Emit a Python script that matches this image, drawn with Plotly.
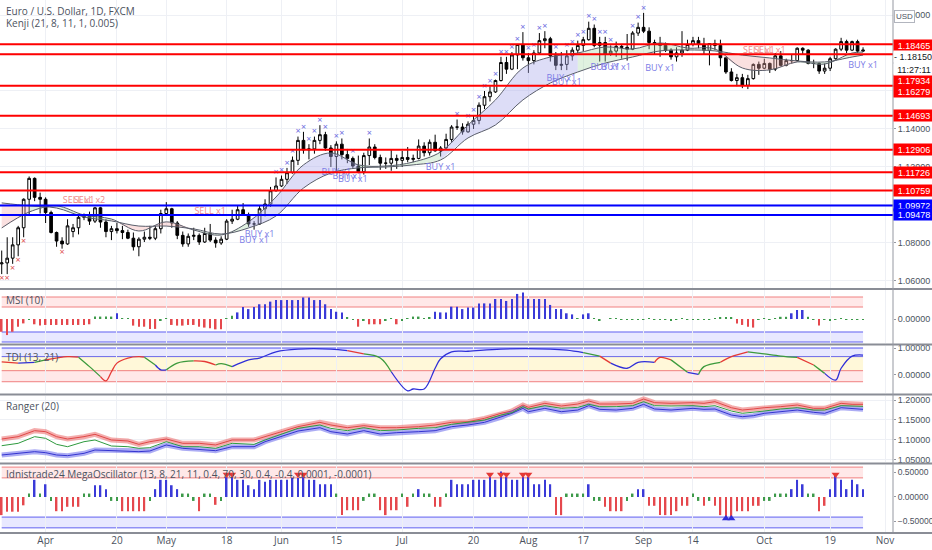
import pandas as pd
import plotly.graph_objects as go
from plotly.subplots import make_subplots

# EUR/USD daily bars (FXCM, weekdays)
dates = pd.bdate_range("2020-03-20", "2020-10-27")

opens = [
    1.0690, 1.0695, 1.0720, 1.0790, 1.0880, 1.1030, 1.1140, 1.1040, 1.1030, 1.0960,
    1.0855, 1.0810, 1.0795, 1.0860, 1.0880, 1.0935, 1.0940, 1.0915, 1.0985, 1.0910,
    1.0860, 1.0875, 1.0865, 1.0855, 1.0825, 1.0780, 1.0820, 1.0830, 1.0825, 1.0875,
    1.0955, 1.0980, 1.0905, 1.0840, 1.0795, 1.0835, 1.0840, 1.0805, 1.0850, 1.0815,
    1.0800, 1.0820, 1.0915, 1.0925, 1.0975, 1.0950, 1.0900, 1.0900, 1.0980, 1.1005,
    1.1075, 1.1100, 1.1135, 1.1170, 1.1235, 1.1340, 1.1290, 1.1295, 1.1340, 1.1370,
    1.1300, 1.1255, 1.1320, 1.1265, 1.1245, 1.1205, 1.1175, 1.1260, 1.1305, 1.1250,
    1.1220, 1.1220, 1.1245, 1.1235, 1.1250, 1.1240, 1.1245, 1.1310, 1.1275, 1.1330,
    1.1285, 1.1300, 1.1345, 1.1410, 1.1410, 1.1385, 1.1425, 1.1445, 1.1525, 1.1570,
    1.1595, 1.1655, 1.1750, 1.1715, 1.1790, 1.1845, 1.1775, 1.1760, 1.1800, 1.1865,
    1.1875, 1.1785, 1.1735, 1.1740, 1.1785, 1.1815, 1.1840, 1.1870, 1.1930, 1.1840,
    1.1855, 1.1795, 1.1810, 1.1835, 1.1830, 1.1820, 1.1905, 1.1935, 1.1915, 1.1855,
    1.1850, 1.1840, 1.1815, 1.1780, 1.1800, 1.1815, 1.1845, 1.1865, 1.1845, 1.1815,
    1.1850, 1.1840, 1.1775, 1.1700, 1.1655, 1.1670, 1.1630, 1.1665, 1.1740, 1.1720,
    1.1745, 1.1715, 1.1785, 1.1735, 1.1760, 1.1760, 1.1825, 1.1815, 1.1745, 1.1745,
    1.1705, 1.1720, 1.1770, 1.1820, 1.1860, 1.1815, 1.1860, 1.1810,
]
highs = [
    1.0760, 1.0830, 1.0830, 1.0890, 1.1035, 1.1150, 1.1145, 1.1065, 1.1040, 1.0970,
    1.0860, 1.0830, 1.0925, 1.0900, 1.0950, 1.0955, 1.0965, 1.0990, 1.0990, 1.0925,
    1.0890, 1.0905, 1.0890, 1.0870, 1.0855, 1.0830, 1.0860, 1.0890, 1.0890, 1.0975,
    1.1015, 1.0985, 1.0915, 1.0860, 1.0850, 1.0880, 1.0850, 1.0880, 1.0900, 1.0830,
    1.0835, 1.0925, 1.0975, 1.0995, 1.1010, 1.0960, 1.0915, 1.0995, 1.1030, 1.1095,
    1.1145, 1.1155, 1.1195, 1.1255, 1.1360, 1.1385, 1.1320, 1.1360, 1.1420, 1.1385,
    1.1315, 1.1335, 1.1350, 1.1295, 1.1255, 1.1260, 1.1275, 1.1350, 1.1320, 1.1265,
    1.1250, 1.1290, 1.1265, 1.1285, 1.1305, 1.1265, 1.1345, 1.1330, 1.1345, 1.1370,
    1.1310, 1.1375, 1.1420, 1.1450, 1.1430, 1.1440, 1.1470, 1.1540, 1.1600, 1.1625,
    1.1660, 1.1780, 1.1780, 1.1805, 1.1845, 1.1910, 1.1800, 1.1815, 1.1905, 1.1915,
    1.1885, 1.1805, 1.1805, 1.1815, 1.1830, 1.1865, 1.1885, 1.1965, 1.1950, 1.1885,
    1.1885, 1.1840, 1.1860, 1.1845, 1.1900, 1.1915, 1.1960, 1.2011, 1.1935, 1.1870,
    1.1885, 1.1855, 1.1825, 1.1830, 1.1915, 1.1870, 1.1885, 1.1885, 1.1880, 1.1850,
    1.1870, 1.1870, 1.1780, 1.1720, 1.1690, 1.1690, 1.1685, 1.1745, 1.1755, 1.1770,
    1.1750, 1.1800, 1.1810, 1.1770, 1.1790, 1.1830, 1.1830, 1.1820, 1.1765, 1.1750,
    1.1745, 1.1780, 1.1825, 1.1880, 1.1870, 1.1865, 1.1870, 1.1830,
]
lows = [
    1.0636, 1.0636, 1.0690, 1.0730, 1.0830, 1.0950, 1.1020, 1.0955, 1.0905, 1.0850,
    1.0780, 1.0770, 1.0790, 1.0830, 1.0845, 1.0920, 1.0895, 1.0905, 1.0880, 1.0830,
    1.0815, 1.0850, 1.0820, 1.0820, 1.0760, 1.0730, 1.0805, 1.0815, 1.0815, 1.0850,
    1.0945, 1.0880, 1.0820, 1.0780, 1.0780, 1.0815, 1.0790, 1.0800, 1.0805, 1.0775,
    1.0790, 1.0815, 1.0900, 1.0920, 1.0945, 1.0885, 1.0870, 1.0895, 1.0940, 1.0990,
    1.1070, 1.1095, 1.1110, 1.1165, 1.1210, 1.1270, 1.1240, 1.1270, 1.1320, 1.1285,
    1.1200, 1.1170, 1.1240, 1.1220, 1.1195, 1.1170, 1.1160, 1.1210, 1.1240, 1.1185,
    1.1190, 1.1180, 1.1190, 1.1200, 1.1225, 1.1225, 1.1240, 1.1255, 1.1260, 1.1280,
    1.1255, 1.1290, 1.1330, 1.1395, 1.1370, 1.1380, 1.1400, 1.1425, 1.1505, 1.1545,
    1.1590, 1.1650, 1.1690, 1.1710, 1.1715, 1.1760, 1.1695, 1.1740, 1.1795, 1.1825,
    1.1755, 1.1710, 1.1710, 1.1710, 1.1760, 1.1800, 1.1810, 1.1865, 1.1830, 1.1755,
    1.1755, 1.1785, 1.1780, 1.1770, 1.1760, 1.1815, 1.1890, 1.1905, 1.1820, 1.1790,
    1.1780, 1.1805, 1.1765, 1.1755, 1.1780, 1.1810, 1.1835, 1.1825, 1.1790, 1.1735,
    1.1815, 1.1730, 1.1690, 1.1650, 1.1625, 1.1615, 1.1610, 1.1660, 1.1685, 1.1715,
    1.1695, 1.1705, 1.1730, 1.1730, 1.1745, 1.1755, 1.1790, 1.1740, 1.1720, 1.1690,
    1.1690, 1.1705, 1.1765, 1.1810, 1.1800, 1.1810, 1.1800, 1.1805,
]
closes = [
    1.0695, 1.0720, 1.0790, 1.0880, 1.1030, 1.1140, 1.1040, 1.1030, 1.0960, 1.0855,
    1.0810, 1.0795, 1.0890, 1.0880, 1.0935, 1.0940, 1.0915, 1.0985, 1.0910, 1.0860,
    1.0875, 1.0865, 1.0855, 1.0825, 1.0780, 1.0820, 1.0830, 1.0825, 1.0875, 1.0955,
    1.0980, 1.0905, 1.0840, 1.0795, 1.0835, 1.0840, 1.0805, 1.0850, 1.0815, 1.0800,
    1.0820, 1.0915, 1.0925, 1.0975, 1.0950, 1.0900, 1.0900, 1.0980, 1.1005, 1.1075,
    1.1100, 1.1135, 1.1170, 1.1235, 1.1340, 1.1290, 1.1295, 1.1340, 1.1370, 1.1300,
    1.1255, 1.1320, 1.1265, 1.1245, 1.1205, 1.1175, 1.1260, 1.1305, 1.1250, 1.1220,
    1.1220, 1.1245, 1.1235, 1.1250, 1.1240, 1.1245, 1.1310, 1.1275, 1.1330, 1.1285,
    1.1300, 1.1345, 1.1410, 1.1410, 1.1385, 1.1425, 1.1445, 1.1525, 1.1570, 1.1595,
    1.1655, 1.1750, 1.1715, 1.1790, 1.1845, 1.1775, 1.1760, 1.1800, 1.1865, 1.1875,
    1.1785, 1.1735, 1.1740, 1.1785, 1.1815, 1.1840, 1.1870, 1.1930, 1.1840, 1.1855,
    1.1795, 1.1810, 1.1835, 1.1830, 1.1820, 1.1905, 1.1935, 1.1915, 1.1855, 1.1850,
    1.1840, 1.1815, 1.1780, 1.1800, 1.1815, 1.1845, 1.1865, 1.1845, 1.1815, 1.1850,
    1.1840, 1.1775, 1.1700, 1.1655, 1.1670, 1.1630, 1.1665, 1.1740, 1.1720, 1.1745,
    1.1715, 1.1785, 1.1735, 1.1760, 1.1760, 1.1825, 1.1815, 1.1745, 1.1745, 1.1705,
    1.1720, 1.1770, 1.1820, 1.1860, 1.1815, 1.1860, 1.1810, 1.1815,
]

# Kenji ribbon, read every 5 bars
kenji_idx = [0, 5, 10, 15, 20, 25, 30, 35, 40, 45, 50, 55, 60, 65, 70, 75, 80, 85, 90, 95,
             100, 105, 110, 115, 120, 125, 130, 135, 140, 145, 150, 155, 157]
kenji_fast = [1.0879, 1.0963, 1.0995, 1.0947, 1.0926, 1.0863, 1.0911, 1.0868, 1.0842, 1.0911,
              1.1042, 1.1211, 1.1274, 1.1211, 1.1205, 1.1226, 1.1279, 1.1421, 1.1553, 1.1721,
              1.1779, 1.1800, 1.1832, 1.1821, 1.1853, 1.1826, 1.1821, 1.1721, 1.1711, 1.1753,
              1.1742, 1.1800, 1.1805]
kenji_slow = [1.1011, 1.0995, 1.0984, 1.0937, 1.0916, 1.0889, 1.0889, 1.0874, 1.0847, 1.0879,
              1.0942, 1.1089, 1.1168, 1.1195, 1.1200, 1.1211, 1.1237, 1.1353, 1.1421, 1.1553,
              1.1642, 1.1700, 1.1747, 1.1779, 1.1811, 1.1816, 1.1811, 1.1789, 1.1774, 1.1758,
              1.1753, 1.1779, 1.1789]
kenji_zones = [(0, 5, "pink"), (5, 20, "green"), (20, 35, "pink"), (35, 45, "green"),
               (45, 65, "lavender"), (65, 80, "green"), (80, 105, "lavender"),
               (105, 130, "green"), (130, 145, "pink"), (145, 157, "green")]

# horizontal levels
level_prices = [1.18465, 1.17934, 1.16279, 1.14693, 1.12906, 1.11726, 1.10759, 1.09972, 1.09478]
level_colors = ["#ff0000"] * 7 + ["#0000ff"] * 2
current_price = 1.18150

# signals on the price pane
blue_x_idx = [50, 51, 52, 53, 54, 55, 56, 57, 58, 59, 61, 62, 64, 67, 83, 85, 86, 87, 88, 89,
              90, 91, 92, 93, 94, 95, 96, 97, 98, 99, 101, 103, 104, 105, 106, 107, 108, 109,
              110, 111, 115, 116, 117]
red_x_idx = [0, 1, 2, 3, 4, 11]
buy_idx = [46, 47, 61, 63, 64, 80, 102, 103, 110, 112, 120, 157]
buy_price = [1.0811, 1.0842, 1.1168, 1.1147, 1.1132, 1.1195, 1.1663, 1.1642, 1.1721, 1.1721,
             1.1716, 1.1732]
sell_idx = [14, 16, 38, 138, 140]
sell_text = ["SELL x1", "SELL x2", "SELL x1", "SELL x1", "SELL x1"]
sell_price = [1.1021, 1.1021, 1.0963, 1.1811, 1.1811]

# MSI (10)
msi = [
    -0.58, -0.73, -0.58, -0.35, -0.20, -0.03, -0.24, -0.30, -0.27, -0.27,
    -0.27, -0.27, -0.27, -0.27, -0.27, -0.27, -0.24, 0.11, 0.11, 0.11,
    0.11, 0.26, 0.03, 0.03, -0.30, -0.35, -0.35, -0.45, -0.45, -0.05,
    0.03, -0.27, -0.30, -0.30, -0.27, -0.27, -0.35, -0.39, -0.42, -0.47,
    -0.47, 0.03, 0.15, 0.30, 0.55, 0.45, 0.55, 0.67, 0.67, 0.79,
    0.86, 0.86, 0.86, 0.86, 0.86, 0.98, 0.98, 0.86, 0.86, 0.67,
    0.45, 0.33, 0.30, 0.06, -0.02, -0.35, -0.05, -0.24, -0.24, -0.24,
    -0.05, 0.03, -0.24, -0.05, 0.03, 0.11, 0.11, 0.03, 0.06, 0.33,
    0.30, 0.30, 0.56, 0.56, 0.45, 0.52, 0.52, 0.71, 0.71, 0.71,
    0.91, 0.91, 0.82, 0.91, 1.14, 1.21, 0.91, 0.91, 0.91, 0.91,
    0.64, 0.45, 0.45, 0.26, 0.21, 0.03, 0.21, 0.26, 0.03, -0.05,
    0.00, 0.03, 0.03, -0.02, -0.03, -0.03, -0.03, -0.03, 0.03, -0.03,
    -0.03, -0.03, -0.06, -0.03, 0.03, -0.03, -0.03, -0.03, -0.03, -0.03,
    0.03, 0.06, 0.08, 0.08, -0.20, -0.27, -0.35, -0.39, -0.03, 0.03,
    -0.03, 0.03, 0.10, 0.10, 0.26, 0.41, 0.41, 0.10, -0.03, -0.30,
    -0.03, -0.05, -0.03, 0.03, -0.03, -0.03, -0.03, -0.03,
]

# TDI (13, 21) line, sampled
tdi_idx = [0, 3, 6, 8, 12, 14, 16, 18, 19, 20, 21, 23, 25, 26, 28, 29, 30, 32, 35, 37,
           39, 40, 42, 45, 47, 50, 54, 60, 63, 66, 69, 71, 74, 75, 77, 79, 80, 82, 85, 91,
           100, 103, 106, 109, 111, 114, 116, 119, 120, 122, 125, 127, 128, 131, 133, 136,
           139, 142, 145, 148, 150, 152, 153, 155, 157]
tdi_val = [0.49, 0.44, 0.47, 0.56, 0.68, 0.66, 0.31, -0.06, -0.22, 0.12, 0.44, 0.63, 0.68,
           0.66, 0.37, 0.19, 0.19, 0.44, 0.52, 0.50, 0.37, 0.42, 0.31, 0.56, 0.63, 0.86,
           0.96, 0.96, 0.90, 0.78, 0.63, 0.12, -0.59, -0.52, -0.52, 0.25, 0.60, 0.86, 0.88,
           0.96, 0.96, 0.92, 0.83, 0.70, 0.44, 0.25, 0.47, 0.47, 0.65, 0.56, 0.10, 0.02,
           0.31, 0.47, 0.68, 0.86, 0.78, 0.70, 0.65, 0.37, 0.06, -0.19, 0.25, 0.70, 0.74]
tdi_col = ["r", "r", "b", "g", "r", "r", "g", "g", "r", "r", "r", "r", "r", "r", "g", "b",
           "b", "g", "g", "r", "r", "g", "g", "b", "b", "b", "b", "b", "b", "r", "g", "g",
           "b", "b", "b", "b", "b", "b", "b", "b", "b", "b", "b", "g", "r", "b", "b", "b",
           "r", "r", "g", "b", "g", "g", "r", "r", "g", "g", "g", "r", "g", "b", "b", "b", "b"]

# Ranger (20), sampled
rng_idx = [0, 3, 6, 8, 10, 12, 15, 17, 20, 23, 25, 27, 30, 33, 36, 39, 42, 46, 48, 51,
           54, 58, 60, 63, 66, 69, 72, 76, 79, 82, 85, 88, 91, 93, 95, 96, 99, 102, 105, 107,
           109, 112, 115, 117, 119, 122, 126, 128, 130, 133, 135, 137, 139, 142, 145, 148,
           150, 153, 155, 157]
rng_upper = [1.1015, 1.1074, 1.1226, 1.1200, 1.1074, 1.1015, 1.1074, 1.1133, 1.0990, 1.0965,
             1.0880, 1.0947, 1.1015, 1.0906, 1.0906, 1.0864, 1.0990, 1.0990, 1.1074, 1.1200,
             1.1326, 1.1436, 1.1369, 1.1301, 1.1352, 1.1301, 1.1301, 1.1326, 1.1369, 1.1436,
             1.1452, 1.1537, 1.1664, 1.1722, 1.1874, 1.1815, 1.1916, 1.1848, 1.1899, 1.1975,
             1.1899, 1.1899, 1.1916, 1.2025, 1.1933, 1.1916, 1.1933, 1.1916, 1.1958, 1.1806,
             1.1747, 1.1773, 1.1806, 1.1832, 1.1874, 1.1790, 1.1790, 1.1916, 1.1891, 1.1891]
rng_mid = [1.0846, 1.0906, 1.1074, 1.1032, 1.0880, 1.0821, 1.0947, 1.0990, 1.0838, 1.0821,
           1.0780, 1.0796, 1.0947, 1.0821, 1.0821, 1.0780, 1.0906, 1.0880, 1.0990, 1.1141,
           1.1284, 1.1369, 1.1284, 1.1226, 1.1301, 1.1226, 1.1242, 1.1284, 1.1301, 1.1386,
           1.1436, 1.1495, 1.1621, 1.1680, 1.1832, 1.1773, 1.1857, 1.1790, 1.1815, 1.1891,
           1.1832, 1.1832, 1.1857, 1.1958, 1.1857, 1.1848, 1.1857, 1.1832, 1.1857, 1.1722,
           1.1664, 1.1689, 1.1722, 1.1773, 1.1806, 1.1747, 1.1747, 1.1857, 1.1848, 1.1840]
rng_lower = [1.0611, 1.0653, 1.0695, 1.0670, 1.0611, 1.0594, 1.0653, 1.0737, 1.0720, 1.0712,
             1.0695, 1.0712, 1.0864, 1.0780, 1.0755, 1.0720, 1.0821, 1.0821, 1.0947, 1.1074,
             1.1217, 1.1301, 1.1200, 1.1141, 1.1226, 1.1141, 1.1175, 1.1200, 1.1226, 1.1326,
             1.1369, 1.1436, 1.1563, 1.1664, 1.1790, 1.1705, 1.1790, 1.1705, 1.1747, 1.1857,
             1.1764, 1.1747, 1.1790, 1.1891, 1.1773, 1.1747, 1.1790, 1.1764, 1.1773, 1.1621,
             1.1579, 1.1604, 1.1664, 1.1705, 1.1747, 1.1689, 1.1664, 1.1806, 1.1790, 1.1764]

# MegaOscillator
mega = [
    -0.37, -0.30, -0.30, -0.30, -0.17, 0.07, 0.35, 0.07, 0.26, -0.08,
    -0.29, -0.29, -0.20, -0.20, -0.20, 0.07, 0.07, 0.24, 0.24, 0.16,
    -0.08, -0.08, -0.29, -0.29, -0.29, -0.29, -0.29, -0.08, 0.16, 0.35,
    0.35, 0.24, 0.16, 0.07, 0.07, -0.08, -0.29, 0.07, 0.07, -0.16,
    -0.08, 0.41, 0.41, 0.35, 0.35, 0.24, 0.16, 0.35, 0.31, 0.35,
    0.35, 0.35, 0.35, 0.39, 0.39, 0.41, 0.35, 0.35, 0.26, 0.26,
    0.26, 0.07, -0.37, -0.27, -0.27, -0.27, -0.08, 0.07, 0.07, -0.27,
    -0.37, -0.27, -0.27, 0.07, -0.20, 0.07, 0.16, 0.07, 0.07, -0.20,
    -0.20, 0.07, 0.35, 0.26, 0.26, 0.26, 0.35, 0.35, 0.35, 0.41,
    0.35, 0.52, 0.41, 0.35, 0.35, 0.41, 0.41, 0.26, 0.26, 0.35,
    0.26, -0.37, -0.37, 0.07, 0.07, 0.07, 0.07, 0.26, -0.08, -0.08,
    -0.20, -0.29, -0.29, -0.29, -0.08, 0.07, 0.16, 0.16, -0.18, -0.18,
    -0.37, -0.37, -0.37, -0.29, -0.18, -0.18, 0.07, -0.08, -0.18, -0.08,
    -0.18, -0.37, -0.44, -0.44, -0.29, -0.29, -0.29, -0.18, -0.18, -0.08,
    -0.08, 0.07, 0.07, 0.07, 0.16, 0.35, 0.26, 0.07, 0.07, -0.29,
    -0.18, 0.16, 0.45, 0.35, 0.16, 0.35, 0.26, 0.16,
]
mega_sell_idx = [41, 42, 54, 55, 89, 91, 92, 95, 96, 152]
mega_buy_idx = [132, 133]

tick_dates = ["2020-04-01", "2020-04-20", "2020-05-01", "2020-05-18", "2020-06-01",
              "2020-06-15", "2020-07-01", "2020-07-20", "2020-08-03", "2020-08-17",
              "2020-09-01", "2020-09-14", "2020-10-01", "2020-10-19", "2020-11-02"]
tick_text = ["Apr", "20", "May", "18", "Jun", "15", "Jul", "20", "Aug", "17",
             "Sep", "14", "Oct", "19", "Nov"]

TXT = "#4c525e"
NUM_FONT = "Liberation Sans, Arial, sans-serif"
RED, BLUE, GREEN = "#e5484d", "#3a3ad8", "#3d9a4a"


def at(idx):
    return [dates[i] for i in idx]


def osc_color(v, hi, lo):
    if v >= hi:
        return BLUE
    if v <= lo:
        return RED
    return GREEN


fig = make_subplots(rows=5, cols=1, shared_xaxes=True, vertical_spacing=0.01)

# ---- price pane ----
zone_fill = {"pink": "rgba(240,165,165,0.35)", "green": "rgba(165,215,165,0.35)",
             "lavender": "rgba(170,170,235,0.4)"}
for a, b, zone in kenji_zones:
    ks = [k for k, j in enumerate(kenji_idx) if a <= j <= b]
    xs = [dates[kenji_idx[k]] for k in ks]
    fig.add_trace(go.Scatter(x=xs, y=[kenji_slow[k] for k in ks], mode="lines",
                             line=dict(width=0, shape="spline"), hoverinfo="skip"), row=1, col=1)
    fig.add_trace(go.Scatter(x=xs, y=[kenji_fast[k] for k in ks], mode="lines",
                             line=dict(width=0, shape="spline"), fill="tonexty",
                             fillcolor=zone_fill[zone], hoverinfo="skip"), row=1, col=1)
for series in (kenji_fast, kenji_slow):
    fig.add_trace(go.Scatter(x=at(kenji_idx), y=series, mode="lines",
                             line=dict(color="#5a5e6b", width=1, shape="spline"),
                             hoverinfo="skip"), row=1, col=1)

fig.add_trace(go.Candlestick(
    x=dates, open=opens, high=highs, low=lows, close=closes,
    increasing=dict(line=dict(color="#000000", width=1), fillcolor="#ffffff"),
    decreasing=dict(line=dict(color="#000000", width=1), fillcolor="#000000"),
    whiskerwidth=0, hoverinfo="skip"), row=1, col=1)

fig.add_trace(go.Scatter(x=at(blue_x_idx), y=[highs[i] for i in blue_x_idx], mode="text",
                         text=["×"] * len(blue_x_idx), textposition="top center",
                         textfont=dict(size=9, color="#6b6be0"), hoverinfo="skip"), row=1, col=1)
fig.add_trace(go.Scatter(x=at(red_x_idx), y=[lows[i] for i in red_x_idx], mode="text",
                         text=["×"] * len(red_x_idx), textposition="bottom center",
                         textfont=dict(size=9, color="#e05050"), hoverinfo="skip"), row=1, col=1)
fig.add_trace(go.Scatter(x=at(buy_idx), y=buy_price, mode="text",
                         text=["BUY x1"] * len(buy_idx), textposition="middle center",
                         textfont=dict(size=9, color="#7c7ce6"), hoverinfo="skip"), row=1, col=1)
fig.add_trace(go.Scatter(x=at(sell_idx), y=sell_price, mode="text", text=sell_text,
                         textposition="middle center",
                         textfont=dict(size=9, color="#f08a8a"), hoverinfo="skip"), row=1, col=1)

shapes = []
annotations = []
label_shift = [-1.5, -26, -6, 0, 0, 0, 0, 0, 0]
for p, c, s in zip(level_prices, level_colors, label_shift):
    shapes.append(dict(type="line", xref="x domain", yref="y", x0=0, x1=1, y0=p, y1=p,
                       line=dict(color=c, width=2)))
    annotations.append(dict(xref="paper", yref="y", x=1, y=p, xanchor="left", yshift=s,
                            text=f"{p:.5f}", showarrow=False, bgcolor=c, borderpad=0,
                            width=40, height=11, align="center",
                            font=dict(size=9, color="white", family=NUM_FONT)))
annotations.append(dict(xref="paper", yref="y", x=1, y=current_price, xanchor="left", yshift=-6,
                        text=f"- {current_price:.5f}", showarrow=False, bgcolor="white",
                        width=40, height=11, borderpad=0, align="left",
                        font=dict(size=9, color="#131722", family=NUM_FONT)))
annotations.append(dict(xref="paper", yref="y", x=1, y=current_price, xanchor="left", yshift=-19,
                        text="11:27:11", showarrow=False, bgcolor="white",
                        width=40, height=11, borderpad=0, align="center",
                        font=dict(size=9, color="#131722", family=NUM_FONT)))

# ---- MSI ----
fig.add_trace(go.Bar(x=dates, y=msi, width=0.3 * 86400000,
                     marker=dict(color=[osc_color(v, 0.2, -0.12) for v in msi], line=dict(width=0)),
                     hoverinfo="skip"), row=2, col=1)

# ---- TDI ----
tdi_palette = {"r": "#e53935", "g": "#3c9a3c", "b": "#2f2fd8"}
k = 1
while k < len(tdi_idx):
    c = tdi_col[k]
    end = k
    while end + 1 < len(tdi_idx) and tdi_col[end + 1] == c:
        end += 1
    pts = list(range(k - 1, end + 1))
    fig.add_trace(go.Scatter(x=[dates[tdi_idx[p]] for p in pts], y=[tdi_val[p] for p in pts],
                             mode="lines", line=dict(color=tdi_palette[c], width=1.3, shape="spline"),
                             hoverinfo="skip"), row=3, col=1)
    k = end + 1

# ---- Ranger ----
for series, light, dark in ((rng_upper, "rgba(230,70,70,0.45)", "#e04848"),
                            (rng_lower, "rgba(70,70,230,0.45)", "#3434d0")):
    fig.add_trace(go.Scatter(x=at(rng_idx), y=series, mode="lines",
                             line=dict(color=light, width=5), hoverinfo="skip"), row=4, col=1)
    fig.add_trace(go.Scatter(x=at(rng_idx), y=series, mode="lines",
                             line=dict(color=dark, width=1), hoverinfo="skip"), row=4, col=1)
fig.add_trace(go.Scatter(x=at(rng_idx), y=rng_mid, mode="lines",
                         line=dict(color="#2e9a3e", width=1), hoverinfo="skip"), row=4, col=1)

# ---- MegaOscillator ----
fig.add_trace(go.Bar(x=dates, y=mega, width=0.3 * 86400000,
                     marker=dict(color=[osc_color(v, 0.15, -0.15) for v in mega], line=dict(width=0)),
                     hoverinfo="skip"), row=5, col=1)
fig.add_trace(go.Scatter(x=at(mega_sell_idx), y=[0.46] * len(mega_sell_idx), mode="markers",
                         marker=dict(symbol="triangle-down", size=7, color="#e53935"),
                         hoverinfo="skip"), row=5, col=1)
fig.add_trace(go.Scatter(x=at(mega_buy_idx), y=[-0.44] * len(mega_buy_idx), mode="markers",
                         marker=dict(symbol="triangle-up", size=7, color="#2f2fd8"),
                         hoverinfo="skip"), row=5, col=1)

# oscillator bands
bands = [
    ("x2", "y2", 0.545, 1.0, "rgba(255,90,90,0.14)", "#f08080"),
    ("x2", "y2", -1.045, -0.59, "rgba(90,90,255,0.14)", "#6060f0"),
    ("x3", "y3", 0.68, 1.0, "rgba(90,90,255,0.14)", "#5050f0"),
    ("x3", "y3", 0.16, 0.68, "rgba(255,240,170,0.45)", None),
    ("x3", "y3", -0.25, 0.16, "rgba(255,90,90,0.14)", "#f08080"),
    ("x5", "y5", 0.39, 0.61, "rgba(255,90,90,0.14)", "#f08080"),
    ("x5", "y5", -0.63, -0.41, "rgba(90,90,255,0.14)", "#6060f0"),
]
for xr, yr, lo, hi, fill, edge in bands:
    shapes.append(dict(type="rect", xref=xr, yref=yr, x0=dates[0], x1=dates[-1], y0=lo, y1=hi,
                       fillcolor=fill, line=dict(width=0), layer="below"))
    if edge:
        for v in (lo, hi):
            shapes.append(dict(type="line", xref=xr, yref=yr, x0=dates[0], x1=dates[-1],
                               y0=v, y1=v, line=dict(color=edge, width=1), layer="below"))

# pane separators and price-scale border
for yp in (0.4578, 0.3537, 0.2598, 0.1304):
    shapes.append(dict(type="line", xref="paper", yref="paper", x0=0, x1=1.05, y0=yp, y1=yp,
                       line=dict(color="#8a8d96", width=2)))
shapes.append(dict(type="line", xref="paper", yref="paper", x0=1, x1=1, y0=0, y1=1,
                   line=dict(color="#9598a1", width=1)))
shapes.append(dict(type="line", xref="paper", yref="paper", x0=0, x1=1.05, y0=0, y1=0,
                   line=dict(color="#8a8d96", width=2)))

titles = [
    ("Euro / U.S. Dollar, 1D, FXCM", 0.979),
    ("Kenji (21, 8, 11, 1, 0.005)", 0.957),
    ("MSI (10)", 0.437),
    ("TDI (13, 21)", 0.330),
    ("Ranger (20)", 0.238),
    ("Idnistrade24 MegaOscillator (13, 8, 21, 11, 0.4, 70, 30, 0.4, -0.4, 0.0001, -0.0001)", 0.111),
]
for t, yp in titles:
    annotations.append(dict(xref="paper", yref="paper", x=0.004, y=yp, xanchor="left",
                            yanchor="middle", text=t, showarrow=False,
                            font=dict(size=10, color=TXT)))
annotations.append(dict(xref="paper", yref="paper", x=1.0246, y=0.981, text="USD",
                        showarrow=False, bgcolor="white", bordercolor="#b2b5be",
                        borderwidth=1, borderpad=1, font=dict(size=8, color=TXT, family=NUM_FONT)))

fig.update_xaxes(
    rangebreaks=[dict(bounds=["sat", "mon"])],
    range=["2020-03-19 16:30", "2020-11-03 11:00"],
    tickvals=tick_dates, ticktext=tick_text,
    showgrid=True, gridcolor="#eef0f5", gridwidth=1,
    zeroline=False, showline=False, ticks="",
    rangeslider=dict(visible=False),
    tickfont=dict(size=10, color=TXT),
)
for r in range(1, 5):
    fig.update_xaxes(showticklabels=False, row=r, col=1)
fig.update_xaxes(showticklabels=True, row=5, col=1)

fig.update_yaxes(side="right", zeroline=False, showline=False, ticks="outside", ticklen=2,
                 tickcolor="#9598a1", tickformat=".5f",
                 tickfont=dict(size=9, color=TXT, family=NUM_FONT),
                 gridcolor="#eef0f5", automargin=False)
fig.update_yaxes(range=[1.0563, 1.2079], tickvals=[1.06, 1.08, 1.10, 1.12, 1.14, 1.16, 1.18, 1.20],
                 row=1, col=1)
fig.update_yaxes(range=[-1.09, 1.318], tickvals=[0], showgrid=False, row=2, col=1)
fig.update_yaxes(range=[-0.667, 1.074], tickvals=[0, 1], showgrid=False, row=3, col=1)
fig.update_yaxes(range=[1.0434, 1.2101], tickvals=[1.05, 1.10, 1.15, 1.20], row=4, col=1)
fig.update_yaxes(range=[-0.735, 0.653], tickvals=[-0.5, 0, 0.5], showgrid=False,
                 tickfont=dict(size=8.5), row=5, col=1)

fig.update_layout(
    width=932, height=550,
    margin=dict(l=0, r=39, t=0, b=17),
    paper_bgcolor="white", plot_bgcolor="white",
    showlegend=False,
    font=dict(family="Open Sans, Roboto, sans-serif", size=10, color=TXT),
    yaxis=dict(domain=[0.4597, 1.0]),
    yaxis2=dict(domain=[0.3565, 0.4559]),
    yaxis3=dict(domain=[0.2627, 0.3508]),
    yaxis4=dict(domain=[0.1332, 0.2570]),
    yaxis5=dict(domain=[0.0, 0.1276]),
    shapes=shapes,
    annotations=annotations,
)

# the page has a default 8px body margin; remove it so the figure sits at the window origin
fig.write_html("out.html", config={"displayModeBar": False},
               post_script="document.body.style.margin='0px';")
